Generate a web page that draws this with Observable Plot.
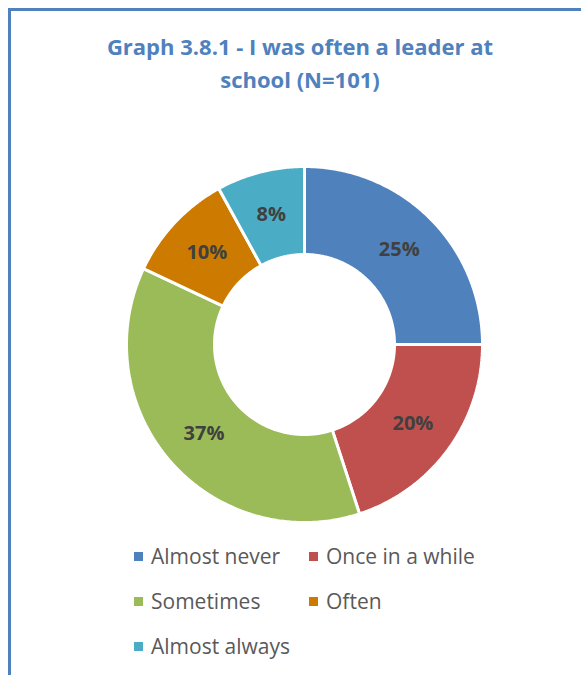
<!DOCTYPE html>
<html><head><meta charset="utf-8">
<script src="https://cdn.jsdelivr.net/npm/d3@7"></script>
<script src="https://cdn.jsdelivr.net/npm/@observablehq/plot@0.6"></script>
<style>
body{margin:0;background:#fff;font-family:"Open Sans",sans-serif;}
#wrap{position:relative;width:581px;height:675px;overflow:hidden;background:#fff;}
#frame{position:absolute;left:8px;top:8px;width:700px;height:800px;border-left:3px solid #4F81BD;border-top:3px solid #4F81BD;}
#title{position:absolute;left:0;width:600px;top:30px;text-align:center;color:#4F81BD;font-weight:bold;font-size:22px;line-height:33px;}
#chart{position:absolute;left:0;top:144px;}
.leg{position:absolute;height:30px;font-size:21px;color:#595959;display:flex;align-items:center;white-space:nowrap;}
.leg i{display:inline-block;width:9px;height:9px;margin-right:8px;}
</style></head>
<body>
<div id="wrap">
  <div id="frame"></div>
  <div id="title">Graph 3.8.1 - I was often a leader at<br>school (N=101)</div>
  <div id="chart"></div>
  <div id="legend"></div>
</div>
<script>
const categories = ["Almost never", "Once in a while", "Sometimes", "Often", "Almost always"];
const values = [25, 20, 37, 10, 8];
const colors = ["#4F81BD", "#C0504D", "#9BBB59", "#CC7A00", "#4BACC6"];

const outerR = 0.89, innerR = 0.45, labelR = (outerR + innerR) / 2;
const pie = d3.pie().sort(null).value(d => d.value);
const arcs = pie(categories.map((c, i) => ({category: c, value: values[i]})));

const pts = [];
for (const a of arcs) {
  const n = Math.max(8, Math.ceil((a.endAngle - a.startAngle) / 0.01));
  const ring = [];
  for (let k = 0; k <= n; k++) {
    const t = a.startAngle + (a.endAngle - a.startAngle) * k / n;
    ring.push([outerR * Math.sin(t), outerR * Math.cos(t)]);
  }
  for (let k = n; k >= 0; k--) {
    const t = a.startAngle + (a.endAngle - a.startAngle) * k / n;
    ring.push([innerR * Math.sin(t), innerR * Math.cos(t)]);
  }
  ring.push(ring[0]);
  for (const [x, y] of ring) pts.push({category: a.data.category, x, y});
}
const labels = arcs.map(a => {
  const m = (a.startAngle + a.endAngle) / 2;
  return {x: labelR * Math.sin(m), y: labelR * Math.cos(m), text: a.data.value + "%"};
});

const chart = Plot.plot({
  width: 581, height: 400,
  marginLeft: 104, marginRight: 77, marginTop: 0, marginBottom: 0,
  x: {domain: [-1, 1], axis: null},
  y: {domain: [-1, 1], axis: null},
  color: {domain: categories, range: colors},
  style: {fontFamily: "Open Sans", background: "transparent"},
  marks: [
    Plot.line(pts, {x: "x", y: "y", z: "category", fill: "category", stroke: "white", strokeWidth: 3, strokeLinejoin: "miter", curve: "linear"}),
    Plot.text(labels, {x: "x", y: "y", text: "text", fill: "#404040", fontWeight: "bold", fontSize: 20})
  ]
});
document.getElementById("chart").appendChild(chart);

const legPos = [[134, 556], [309, 556], [134, 601], [309, 601], [134, 646]];
const leg = document.getElementById("legend");
categories.forEach((c, i) => {
  const d = document.createElement("div");
  d.className = "leg";
  d.style.left = legPos[i][0] + "px";
  d.style.top = (legPos[i][1] - 15) + "px";
  d.innerHTML = `<i style="background:${colors[i]}"></i><span>${c}</span>`;
  leg.appendChild(d);
});
</script>
</body></html>
